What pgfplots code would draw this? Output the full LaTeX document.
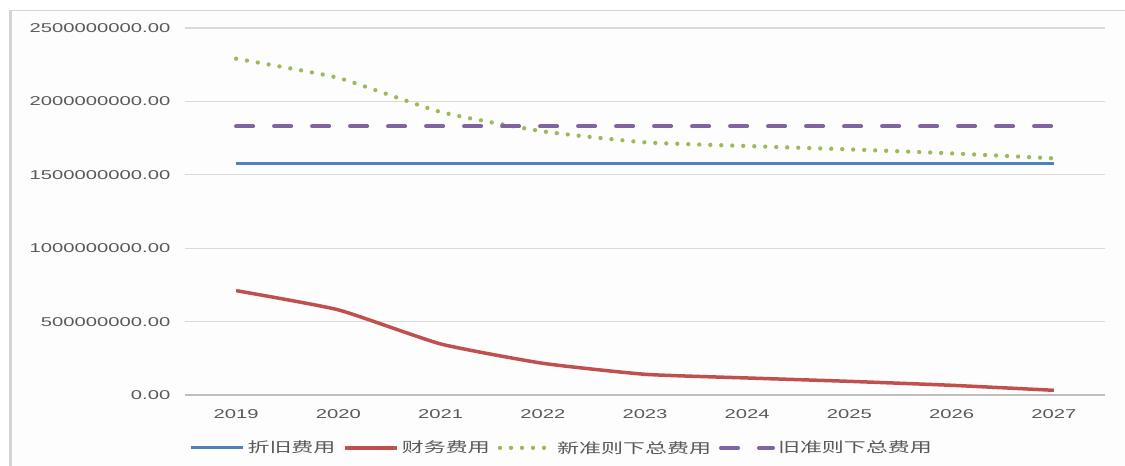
\documentclass[border=0pt]{standalone}
\usepackage{pgfplots}
\pgfplotsset{compat=1.18}
\usepackage{fontspec}
\setmainfont{Liberation Sans}[FakeStretch=1.58]
\newfontfamily\cjk{Noto Sans CJK SC}[FakeStretch=1.57]

\definecolor{deprblue}{HTML}{4F81BD}
\definecolor{finred}{HTML}{C0504D}
\definecolor{newgreen}{HTML}{9BBB59}
\definecolor{oldpurple}{HTML}{8064A2}
\definecolor{textgray}{HTML}{595959}
\definecolor{gridgray}{HTML}{D9D9D9}
\definecolor{axisgray}{HTML}{BFBFBF}
\definecolor{framegray}{HTML}{D4D4D4}
\definecolor{framebg}{HTML}{FDFDFD}

% years 2019..2027 plotted at positions 0..8
\pgfplotstableread{
x  depr      fin       newtotal  oldtotal
0  1.580e9   0.711e9   2.291e9   1.830e9
1  1.580e9   0.580e9   2.160e9   1.830e9
2  1.580e9   0.348e9   1.928e9   1.830e9
3  1.580e9   0.216e9   1.796e9   1.830e9
4  1.580e9   0.141e9   1.721e9   1.830e9
5  1.580e9   0.116e9   1.696e9   1.830e9
6  1.580e9   0.093e9   1.673e9   1.830e9
7  1.580e9   0.066e9   1.646e9   1.830e9
8  1.580e9   0.032e9   1.612e9   1.830e9
}\costs

\begin{document}
\begin{tikzpicture}[x=1pt,y=1pt]
\path[use as bounding box] (0,0) rectangle (1125,466);
\fill[white] (0,0) rectangle (1125,466);
\fill[framebg] (10,0) rectangle (1125,455);
\draw[framegray, line width=1pt] (10,455) -- (1125,455);
\draw[framegray, line width=3pt] (10,0) -- (10,455.5);

\begin{axis}[
  at={(185pt,71pt)}, anchor=south west,
  scale only axis, width=920pt, height=367pt,
  xmin=-0.5, xmax=8.5, ymin=0, ymax=2.5e9,
  axis x line*=bottom, axis y line*=left,
  x axis line style={-, draw=axisgray, line width=1.3pt},
  y axis line style={draw=none},
  xtick={0,...,8},
  xticklabels={2019,2020,2021,2022,2023,2024,2025,2026,2027},
  xtick style={draw=none},
  extra x ticks={-0.5,0.5,...,8.5},
  extra x tick labels={},
  extra x tick style={grid=none, tick align=outside, major tick length=6pt,
    tick style={draw=axisgray, line width=1.2pt}},
  ytick={0,5e8,1e9,1.5e9,2e9,2.5e9},
  yticklabels={0.00,500000000.00,1000000000.00,1500000000.00,2000000000.00,2500000000.00},
  ytick style={draw=none},
  scaled y ticks=false,
  ymajorgrids,
  grid style={draw=gridgray, line width=1.3pt},
  tick label style={font=\fontsize{12.8}{14}\selectfont, text=textgray, inner sep=0pt},
  xticklabel style={anchor=north, yshift=-14pt},
  yticklabel style={anchor=east, xshift=-14.5pt},
  legend columns=4,
  legend cell align=left,
  legend style={at={(0.41,-0.144)}, anchor=center, draw=none, fill=none,
    font=\cjk\fontsize{14}{16}\selectfont, text=textgray,
    nodes={inner sep=3pt},
    /tikz/every even column/.append style={column sep=5pt}},
  legend image code/.code={\draw[#1] (0pt,0pt) -- (52pt,0pt);},
]
\addplot[deprblue, line width=3pt, no markers]
  table[x=x, y=depr] {\costs};
\addlegendentry{折旧费用}
\addplot[finred, line width=3.5pt, no markers, smooth, tension=0.3]
  table[x=x, y=fin] {\costs};
\addlegendentry{财务费用}
\addplot[newgreen, line width=4.3pt, no markers, smooth, tension=0.3,
  line cap=round, dash pattern=on 0pt off 11pt]
  table[x=x, y=newtotal] {\costs};
\addlegendentry{新准则下总费用}
\addplot[oldpurple, line width=4pt, no markers, line cap=round,
  dash pattern=on 17pt off 21pt]
  table[x=x, y=oldtotal] {\costs};
\addlegendentry{旧准则下总费用}
\end{axis}
\end{tikzpicture}
\end{document}
